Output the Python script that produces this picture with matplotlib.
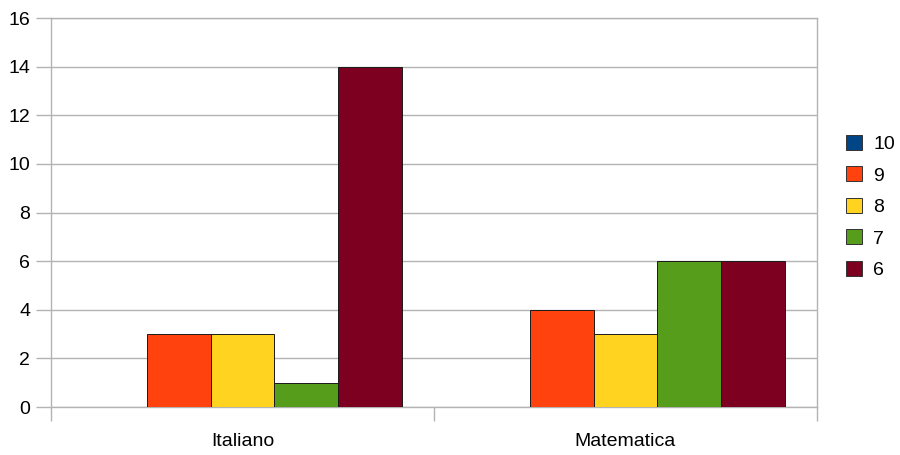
import matplotlib.pyplot as plt
from matplotlib.patches import Patch
import numpy as np

plt.rcParams['font.family'] = ['Liberation Sans', 'DejaVu Sans']

subjects = ["Italiano", "Matematica"]
grades = ["10", "9", "8", "7", "6"]
counts_10 = [0, 0]
counts_9 = [3, 4]
counts_8 = [3, 3]
counts_7 = [1, 6]
counts_6 = [14, 6]
colors = ["#004586", "#ff420e", "#ffd320", "#579d1c", "#7e0021"]

series = [counts_10, counts_9, counts_8, counts_7, counts_6]

fig = plt.figure(figsize=(9, 4.55), dpi=100)
ax = fig.add_axes([51/900, 1-407/455, 766/900, 389/455])

x = np.arange(len(subjects))
w = 1/6
for i, vals in enumerate(series):
    ax.bar(x + (i-2)*w, vals, width=w, color=colors[i],
           edgecolor='#1a1a1a', linewidth=0.7, zorder=3)

ax.set_xlim(-0.5, 1.5)
ax.set_ylim(0, 16)
ax.set_yticks(range(0, 17, 2))
ax.yaxis.grid(True, color='#b3b3b3', linewidth=1, zorder=0)

ax.set_xticks(x)
ax.set_xticklabels(subjects)
ax.set_xticks([-0.5, 0.5, 1.5], minor=True)
ax.tick_params(axis='x', which='major', length=0, pad=19, labelsize=14)
ax.tick_params(axis='x', which='minor', length=10, color='#b3b3b3', width=1)
ax.tick_params(axis='y', length=11, color='#b3b3b3', width=1, pad=4, labelsize=14)

for s in ax.spines.values():
    s.set_color('#b3b3b3')
    s.set_linewidth(1)

handles = [Patch(facecolor=c, edgecolor='#333333', linewidth=0.7) for c in colors]
fig.legend(handles, grades, loc='center left', bbox_to_anchor=(846/900, 1-207/455),
           frameon=False, borderpad=0, borderaxespad=0, fontsize=14,
           handlelength=0.8, handleheight=0.8,
           labelspacing=0.68, handletextpad=0.6)

fig.savefig("out.png", dpi=100)
